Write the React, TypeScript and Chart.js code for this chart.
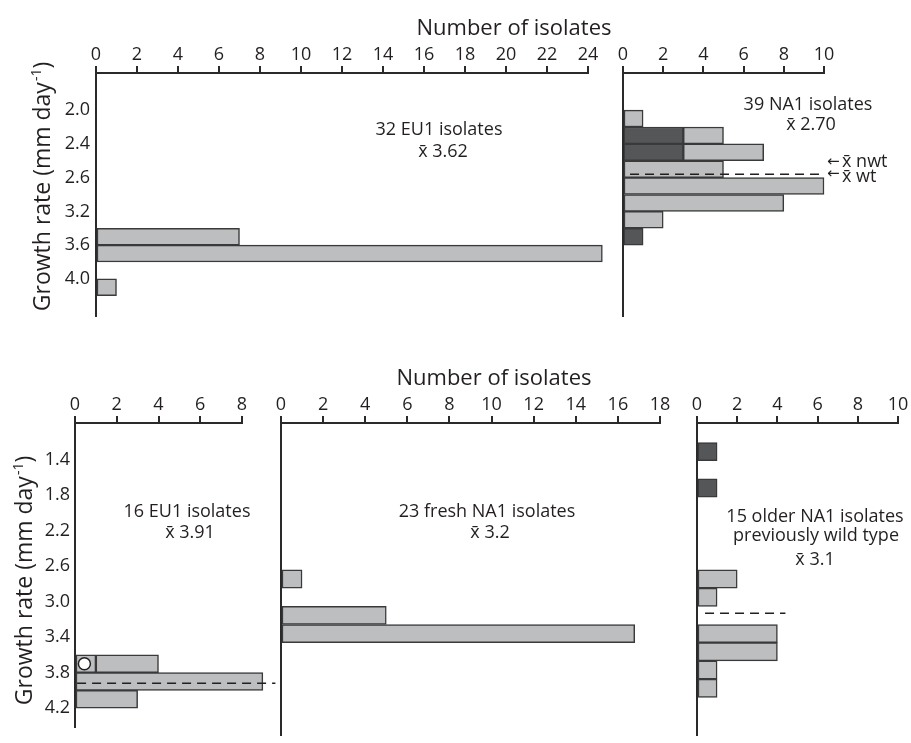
import React, { useEffect, useRef } from "react";
import { Chart, registerables } from "chart.js";
Chart.register(...registerables);

// ---------- DATA (growth-rate bins of 0.2 mm/day, value = bin centre) ----------
// top row
const TOP_Y_TICK_VALUES = [2.0, 2.4, 2.8, 3.2, 3.6, 4.0];
const TOP_Y_TICK_LABELS = ["2.0", "2.4", "2.6", "3.2", "3.6", "4.0"];
const EU1_TOP_RATES = [3.5, 3.7, 4.1];
const EU1_TOP_COUNTS = [7, 24.7, 1];
const NA1_TOP_RATES = [2.1, 2.3, 2.5, 2.7, 2.9, 3.1, 3.3, 3.5];
const NA1_TOP_NONWILD = [null, 3, 3, null, null, null, null, 1];
const NA1_TOP_WILD = [1, 2, 4, 5, 10, 8, 2, null];
const NA1_TOP_MEAN = 2.76;
const NA1_TOP_MEAN_SPAN = [0.35, 10.05];

// bottom row
const BOT_Y_TICK_VALUES = [1.4, 1.8, 2.2, 2.6, 3.0, 3.4, 3.8, 4.2];
const BOT_Y_TICK_LABELS = ["1.4", "1.8", "2.2", "2.6", "3.0", "3.4", "3.8", "4.2"];
const EU1_BOT_RATES = [3.7, 3.9, 4.1];
const EU1_BOT_MARKED = [1, null, null];
const EU1_BOT_COUNTS = [3, 9, 3];
const EU1_BOT_MARKER_X = [0.45];
const EU1_BOT_MARKER_RATE = [3.7];
const EU1_BOT_MEAN = 3.92;
const EU1_BOT_MEAN_SPAN = [0.1, 9.6];
const FRESH_RATES = [2.7, 3.1, 3.3];
const FRESH_COUNTS = [1, 5, 16.8];
const OLDER_DARK_RATES = [1.3, 1.7];
const OLDER_DARK_COUNTS = [1, 1];
const OLDER_LIGHT_RATES = [2.7, 2.9, 3.3, 3.5, 3.7, 3.9];
const OLDER_LIGHT_COUNTS = [2, 1, 4, 4, 1, 1];
const OLDER_MEAN = 3.075;
const OLDER_MEAN_SPAN = [0.4, 4.4];

// text
const X_TITLE = "Number of isolates";
const Y_TITLE = "Growth rate (mm day";
const Y_TITLE_SUP = "-1";
const Y_TITLE_END = ")";
const XBAR = "x\u0304";

// ---------- STYLE ----------
const FONT = '"Open Sans", "DejaVu Sans", sans-serif';
const INK = "#231f20";
const AXIS = "#2a2a2a";
const LIGHT = "#bcbec0";
const DARK = "#555658";
const EDGE = "#3a3a3a";
const W = 911;
const H = 743;

function bars(rates: number[], counts: (number | null)[], color: string) {
  return {
    type: "bar",
    data: rates.map((r, i) => ({ x: counts[i], y: r })),
    backgroundColor: color,
    borderColor: EDGE,
    borderWidth: 1.5,
    borderSkipped: false,
    categoryPercentage: 1,
    barPercentage: 1,
    clip: false,
  };
}

function meanLine(mean: number, span: number[]) {
  return {
    type: "line",
    stack: "mean",
    order: -1,
    data: span.map((v) => ({ x: v, y: mean })),
    borderColor: INK,
    borderWidth: 1.5,
    borderDash: [9, 6],
    pointRadius: 0,
    fill: false,
    clip: false,
  };
}

function txt(ctx: CanvasRenderingContext2D, s: string, x: number, y: number, size = 18, align: CanvasTextAlign = "center") {
  ctx.font = `${size}px ${FONT}`;
  ctx.fillStyle = INK;
  ctx.textAlign = align;
  ctx.textBaseline = "alphabetic";
  ctx.fillText(s, x, y);
}

function yTitle(ctx: CanvasRenderingContext2D, baseX: number, cy: number) {
  ctx.save();
  ctx.translate(baseX, cy);
  ctx.rotate(-Math.PI / 2);
  ctx.fillStyle = INK;
  ctx.textBaseline = "alphabetic";
  ctx.textAlign = "left";
  ctx.font = `23px ${FONT}`;
  const w1 = ctx.measureText(Y_TITLE).width;
  const w3 = ctx.measureText(Y_TITLE_END).width;
  ctx.font = `14px ${FONT}`;
  const w2 = ctx.measureText(Y_TITLE_SUP).width;
  const x0 = -(w1 + w2 + w3) / 2;
  ctx.font = `23px ${FONT}`;
  ctx.fillText(Y_TITLE, x0, 0);
  ctx.font = `14px ${FONT}`;
  ctx.fillText(Y_TITLE_SUP, x0 + w1 + 1, -9);
  ctx.font = `23px ${FONT}`;
  ctx.fillText(Y_TITLE_END, x0 + w1 + w2 + 1, 0);
  ctx.restore();
}

type Area = { l: number; t: number; r: number; b: number };

function makeConfig(opts: {
  area: Area;
  xMax: number;
  yMin: number;
  yMax: number;
  tickValues: number[];
  tickLabels: string[] | null;
  yPad: number;
  xPad: number;
  datasets: any[];
  notes: (ctx: CanvasRenderingContext2D) => void;
}) {
  const AW = 60;
  const AH = 40;
  const { area } = opts;
  return {
    type: "bar",
    data: { datasets: opts.datasets },
    options: {
      indexAxis: "y",
      responsive: false,
      animation: false,
      events: [],
      layout: {
        autoPadding: false,
        padding: { left: area.l - AW, top: area.t - AH, right: W - area.r, bottom: H - area.b },
      },
      plugins: { legend: { display: false }, tooltip: { enabled: false } },
      scales: {
        x: {
          type: "linear",
          position: "top",
          min: 0,
          max: opts.xMax,
          stacked: true,
          ticks: {
            stepSize: 2,
            padding: opts.xPad,
            color: INK,
            font: { family: FONT, size: 18 },
            maxRotation: 0,
            autoSkip: false,
          },
          grid: { drawOnChartArea: false, drawTicks: true, tickLength: 7, color: AXIS, lineWidth: 2 },
          border: { display: true, color: AXIS, width: 2 },
          afterFit: (s: any) => {
            s.height = AH;
          },
        },
        y: {
          type: "linear",
          position: "left",
          reverse: true,
          min: opts.yMin,
          max: opts.yMax,
          stacked: true,
          grid: { display: false, drawTicks: false },
          border: { display: true, color: AXIS, width: 2 },
          ticks: {
            display: !!opts.tickLabels,
            padding: opts.yPad,
            color: INK,
            autoSkip: false,
            font: { family: FONT, size: 18 },
            callback: (_v: any, i: number) => (opts.tickLabels ? opts.tickLabels[i] : ""),
          },
          afterBuildTicks: (s: any) => {
            s.ticks = opts.tickValues.map((v) => ({ value: v }));
          },
          afterFit: (s: any) => {
            s.width = AW;
          },
        },
      },
    },
    plugins: [
      {
        id: "notes",
        afterDraw(chart: any) {
          const ctx = chart.ctx as CanvasRenderingContext2D;
          ctx.save();
          opts.notes(ctx);
          ctx.restore();
        },
      },
    ],
  };
}

const CONFIGS = [
  // top left: 32 EU1 isolates
  () =>
    makeConfig({
      area: { l: 96, t: 73, r: 588, b: 316 },
      xMax: 24,
      yMin: 1.8,
      yMax: 4.2,
      tickValues: TOP_Y_TICK_VALUES,
      tickLabels: TOP_Y_TICK_LABELS,
      yPad: 6,
      xPad: 0,
      datasets: [bars(EU1_TOP_RATES, EU1_TOP_COUNTS, LIGHT)],
      notes: (ctx) => {
        txt(ctx, X_TITLE, 514, 35, 22);
        txt(ctx, "32 EU1 isolates", 439, 135);
        txt(ctx, `${XBAR} 3.62`, 443, 157);
        yTitle(ctx, 50, 187);
      },
    }),
  // top right: 39 NA1 isolates
  () =>
    makeConfig({
      area: { l: 623, t: 73, r: 824, b: 316 },
      xMax: 10,
      yMin: 1.8,
      yMax: 4.2,
      tickValues: TOP_Y_TICK_VALUES,
      tickLabels: null,
      yPad: 6,
      xPad: 0,
      datasets: [
        bars(NA1_TOP_RATES, NA1_TOP_NONWILD, DARK),
        bars(NA1_TOP_RATES, NA1_TOP_WILD, LIGHT),
        meanLine(NA1_TOP_MEAN, NA1_TOP_MEAN_SPAN),
      ],
      notes: (ctx) => {
        txt(ctx, "39 NA1 isolates", 808, 110);
        txt(ctx, `${XBAR} 2.70`, 811, 130);
        ctx.font = `15px "DejaVu Sans"`;
        ctx.fillStyle = INK;
        ctx.textAlign = "left";
        ctx.textBaseline = "middle";
        ctx.fillText("\u2190", 827, 162);
        ctx.fillText("\u2190", 827, 174);
        txt(ctx, `${XBAR} nwt`, 842, 167, 18, "left");
        txt(ctx, `${XBAR} wt`, 842, 182, 18, "left");
      },
    }),
  // bottom left: 16 EU1 isolates
  () =>
    makeConfig({
      area: { l: 75, t: 423, r: 242, b: 735 },
      xMax: 8,
      yMin: 1.2,
      yMax: 4.2,
      tickValues: BOT_Y_TICK_VALUES,
      tickLabels: BOT_Y_TICK_LABELS,
      yPad: 5,
      xPad: 0,
      datasets: [
        bars(EU1_BOT_RATES, EU1_BOT_MARKED, LIGHT),
        bars(EU1_BOT_RATES, EU1_BOT_COUNTS, LIGHT),
        meanLine(EU1_BOT_MEAN, EU1_BOT_MEAN_SPAN),
        {
          type: "line",
          stack: "marker",
          order: -2,
          showLine: false,
          data: EU1_BOT_MARKER_X.map((x, i) => ({ x, y: EU1_BOT_MARKER_RATE[i] })),
          pointRadius: 6,
          pointStyle: "circle",
          pointBackgroundColor: "#ffffff",
          pointBorderColor: INK,
          pointBorderWidth: 1.5,
          clip: false,
        },
      ],
      notes: (ctx) => {
        txt(ctx, "16 EU1 isolates", 187, 517);
        txt(ctx, `${XBAR} 3.91`, 190, 538);
        yTitle(ctx, 32, 581);
      },
    }),
  // bottom middle: 23 fresh NA1 isolates
  () =>
    makeConfig({
      area: { l: 281, t: 423, r: 660, b: 735 },
      xMax: 18,
      yMin: 1.2,
      yMax: 4.2,
      tickValues: BOT_Y_TICK_VALUES,
      tickLabels: null,
      yPad: 5,
      xPad: 0,
      datasets: [bars(FRESH_RATES, FRESH_COUNTS, LIGHT)],
      notes: (ctx) => {
        txt(ctx, X_TITLE, 494, 385, 22);
        txt(ctx, "23 fresh NA1 isolates", 487, 517);
        txt(ctx, `${XBAR} 3.2`, 490, 538);
      },
    }),
  // bottom right: 15 older NA1 isolates
  () =>
    makeConfig({
      area: { l: 697, t: 423, r: 898, b: 735 },
      xMax: 10,
      yMin: 1.2,
      yMax: 4.2,
      tickValues: BOT_Y_TICK_VALUES,
      tickLabels: null,
      yPad: 5,
      xPad: 0,
      datasets: [
        bars(OLDER_DARK_RATES, OLDER_DARK_COUNTS, DARK),
        bars(OLDER_LIGHT_RATES, OLDER_LIGHT_COUNTS, LIGHT),
        meanLine(OLDER_MEAN, OLDER_MEAN_SPAN),
      ],
      notes: (ctx) => {
        txt(ctx, "15 older NA1 isolates", 815, 522);
        txt(ctx, "previously wild type", 816, 541);
        txt(ctx, `${XBAR} 3.1`, 815, 565);
      },
    }),
];

function Panel({ make }: { make: () => any }) {
  const ref = useRef<HTMLCanvasElement>(null);
  useEffect(() => {
    const chart = new Chart(ref.current as HTMLCanvasElement, make());
    return () => chart.destroy();
  }, [make]);
  return (
    <canvas
      ref={ref}
      width={W}
      height={H}
      style={{ position: "absolute", left: 0, top: 0, width: W, height: H }}
    />
  );
}

export default function App() {
  return (
    <div
      style={{
        position: "absolute",
        left: 0,
        top: 0,
        width: W,
        height: H,
        background: "#ffffff",
        overflow: "hidden",
      }}
    >
      {CONFIGS.map((make, i) => (
        <Panel key={i} make={make} />
      ))}
    </div>
  );
}
